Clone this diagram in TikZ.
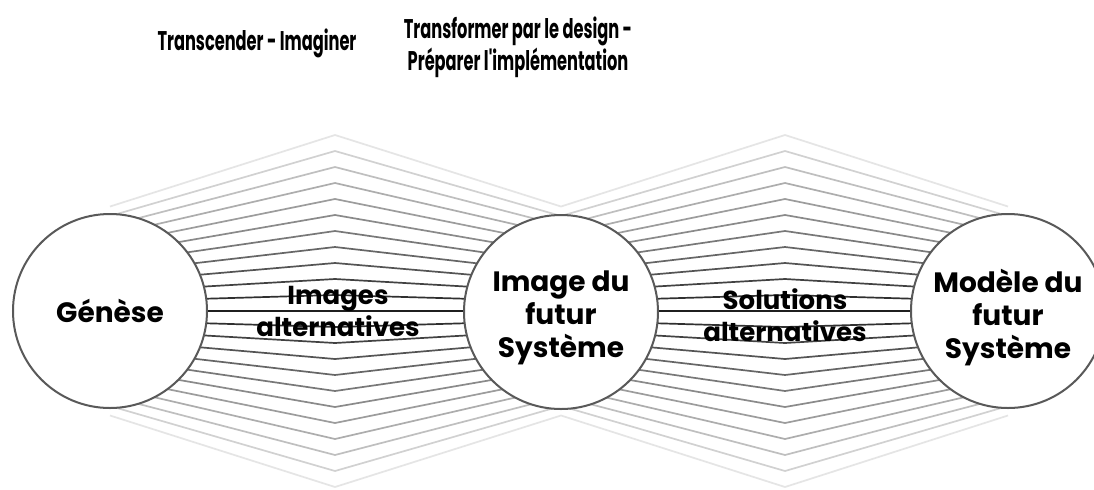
\documentclass[tikz,border=0pt]{standalone}
\usepackage{fontspec}
\setmainfont{Poppins}
\newfontfamily\titlefont[FakeStretch=0.6]{Poppins}
\begin{document}
\begin{tikzpicture}[x=0.5pt,y=-0.5pt,
  circ/.style={circle,draw=black!65,line width=1pt,fill=white,minimum size=97pt,inner sep=0pt},
  clab/.style={align=center,font=\fontsize{14}{16.5}\selectfont\bfseries,inner sep=0pt},
  lab/.style={align=center,font=\fontsize{13}{16}\selectfont\bfseries,inner sep=0pt},
  ttl/.style={align=center,font=\titlefont\fontsize{13.5}{14.5}\selectfont\bfseries,inner sep=0pt}]
\useasboundingbox (0,0) rectangle (1094,489);
\clip (0,0) rectangle (1094,489);
\fill[white] (0,0) rectangle (1094,489);
\foreach \i in {-11,...,11} {
  \pgfmathtruncatemacro\sh{12+78*abs(\i)/11}
  \draw[line width=0.85pt,color=white!\sh!black]
    (110,311+9.5*\i) -- (335,311+16*\i) -- (561,311+9.5*\i) -- (785,311+16*\i) -- (1008,311+9.5*\i);
}
\node[circ] (g) at (110,311) {};
\node[circ] (i) at (561,312) {};
\node[circ] (m) at (1008,311) {};
\node[clab] (gl) at (g.center) {Génèse};
\node[clab] (il) at (561,318) {Image du\\futur\\Système};
\node[clab] (ml) at (1008,318) {Modèle du\\futur\\Système};
\node[lab] (ia) at (338,311) {Images\\alternatives};
\node[lab] (sa) at (785,315) {Solutions\\alternatives};
\node[ttl] (t1) at (257,43) {Transcender - Imaginer};
\node[ttl] (t2) at (518,47) {Transformer par le design -\\Préparer l'implémentation};
\end{tikzpicture}
\end{document}
